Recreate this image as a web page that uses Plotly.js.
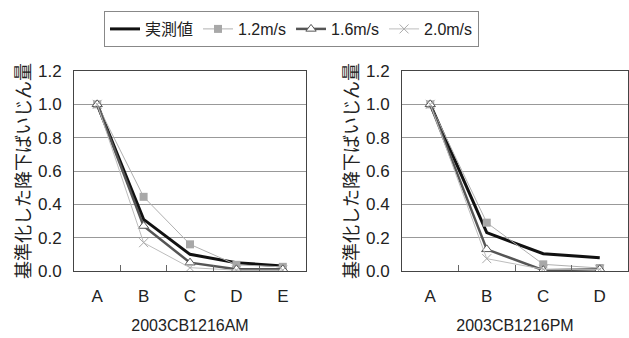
<!DOCTYPE html>
<html><head><meta charset="utf-8">
<script src="https://cdn.plot.ly/plotly-3.0.1.min.js"></script>
<style>html,body{margin:0;padding:0;background:#fff;}#chart{width:629px;height:338px;}</style>
</head><body><div id="chart"></div>
<script>
const seriesNames = ['実測値', '1.2m/s', '1.6m/s', '2.0m/s'];
const catsAM = ['A', 'B', 'C', 'D', 'E'];
const catsPM = ['A', 'B', 'C', 'D'];
const obsAM = [1.0, 0.31, 0.10, 0.05, 0.03];
const v12AM = [1.0, 0.445, 0.16, 0.037, 0.025];
const v16AM = [1.0, 0.27, 0.05, 0.01, 0.01];
const v20AM = [1.0, 0.17, 0.02, 0.005, 0.005];
const obsPM = [1.0, 0.23, 0.104, 0.08];
const v12PM = [1.0, 0.29, 0.04, 0.018];
const v16PM = [1.0, 0.13, 0.005, 0.01];
const v20PM = [1.0, 0.074, 0.01, 0.01];
const xTitleAM = '2003CB1216AM';
const xTitlePM = '2003CB1216PM';
const yTitle = '基準化した降下ばいじん量';

const styles = [
  {line: {color: '#111', width: 3}, mode: 'lines'},
  {line: {color: '#b0b0b0', width: 1}, mode: 'lines+markers', marker: {symbol: 'square', size: 8, color: '#a8a8a8'}},
  {line: {color: '#555', width: 2.5}, mode: 'lines+markers', marker: {symbol: 'triangle-up', size: 9, color: '#fff', line: {color: '#555', width: 1}}},
  {line: {color: '#bdbdbd', width: 1}, mode: 'lines+markers', marker: {symbol: 'x-thin-open', size: 9, color: '#aaa', line: {color: '#aaa', width: 1}}}
];

function mk(i, cats, vals, xa, ya, show) {
  return Object.assign({x: cats, y: vals, name: seriesNames[i], xaxis: xa, yaxis: ya, showlegend: show, type: 'scatter'}, styles[i]);
}
const data = [
  mk(0, catsAM, obsAM, 'x', 'y', true), mk(1, catsAM, v12AM, 'x', 'y', true),
  mk(2, catsAM, v16AM, 'x', 'y', true), mk(3, catsAM, v20AM, 'x', 'y', true),
  mk(0, catsPM, obsPM, 'x2', 'y2', false), mk(1, catsPM, v12PM, 'x2', 'y2', false),
  mk(2, catsPM, v16PM, 'x2', 'y2', false), mk(3, catsPM, v20PM, 'x2', 'y2', false)
];

const cjk = 'Liberation Sans, Arial, Noto Sans CJK JP, sans-serif';
const font = {family: cjk, color: '#222'};
function xax(domain, title, anchor, n) {
  return {domain: domain, anchor: anchor, type: 'category', range: [-0.5, n - 0.5], showgrid: false, ticks: 'inside', tickson: 'boundaries',
    ticklen: 6, tickcolor: '#666', showline: true, linecolor: '#444', linewidth: 1, mirror: true,
    tickfont: {size: 17}, ticklabelstandoff: 10, title: {text: title, font: {size: 16}, standoff: 14}, automargin: false, fixedrange: true};
}
function yax(domain, anchor) {
  return {domain: domain, anchor: anchor, range: [0, 1.2], dtick: 0.2, tickformat: '.1f', showgrid: true, gridcolor: '#999',
    gridwidth: 1, zeroline: false, showline: true, linecolor: '#444', linewidth: 1, mirror: true, ticks: '',
    tickfont: {size: 17}, ticklabelstandoff: 8,
    title: {text: yTitle, font: {size: 18, family: 'Noto Sans CJK JP, sans-serif', color: '#222'}, standoff: 2}, automargin: false, fixedrange: true};
}
const yd = [1 - 271 / 338, 1 - 71 / 338];
const layout = {
  width: 629, height: 338, margin: {l: 0, r: 0, t: 0, b: 0},
  paper_bgcolor: '#fff', plot_bgcolor: '#fff', font: font,
  xaxis: xax([74 / 629, 306 / 629], xTitleAM, 'y', catsAM.length),
  yaxis: yax(yd, 'x'),
  xaxis2: xax([402 / 629, 628 / 629], xTitlePM, 'y2', catsPM.length),
  yaxis2: yax(yd, 'x2'),
  showlegend: true,
  legend: {orientation: 'h', x: 104 / 629, xanchor: 'left', y: 1 - 11 / 338, yanchor: 'top',
    bordercolor: '#888', borderwidth: 1, bgcolor: '#fff', font: {size: 16}, itemwidth: 30, tracegroupgap: 0}
};
Plotly.newPlot('chart', data, layout, {staticPlot: true});
</script></body></html>
